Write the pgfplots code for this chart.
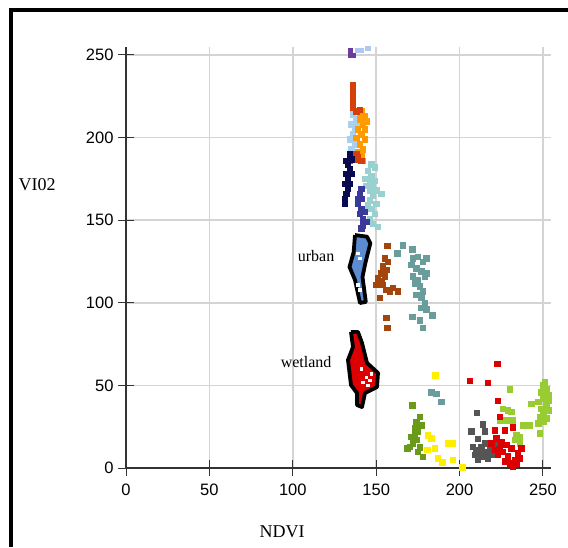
\documentclass[border=0pt]{standalone}
\usepackage{pgfplots}
\pgfplotsset{compat=1.18}
\usepackage{fontspec}
\setmainfont{Liberation Serif}
\setsansfont{Liberation Sans}
\definecolor{cpurple}{HTML}{6A3D9A}
\definecolor{clav}{HTML}{B0C8F0}
\definecolor{credor}{HTML}{D4400A}
\definecolor{corange}{HTML}{FF9A00}
\definecolor{clblue}{HTML}{A8D0F0}
\definecolor{cnavy}{HTML}{0A0A50}
\definecolor{cmblue}{HTML}{3A3A9A}
\definecolor{ccyan}{HTML}{99D0D0}
\definecolor{curban}{HTML}{5B8BD0}
\definecolor{cbrown}{HTML}{A3460E}
\definecolor{cteal}{HTML}{6B9C9C}
\definecolor{cred}{HTML}{DD0000}
\definecolor{cyellow}{HTML}{FFEE00}
\definecolor{colive}{HTML}{6A9A1A}
\definecolor{cgray}{HTML}{555555}
\definecolor{cygreen}{HTML}{99CC33}
\begin{document}
\begin{tikzpicture}
\useasboundingbox (0,0) rectangle (568pt,547pt);
\draw[line width=4pt] (11.3pt,0) -- (11.3pt,536.5pt) -- (568pt,536.5pt);
\begin{axis}[
  scale only axis, width=425.3pt, height=421.3pt,
  at={(126pt,79pt)}, anchor=south west,
  xmin=0, xmax=255, ymin=0, ymax=255,
  xtick={0,50,...,250}, ytick={0,50,...,250},
  axis x line=bottom, axis y line=left,
  axis line style={-, line width=1.2pt, color=black!80},
  grid=major, major grid style={line width=1.5pt, color=black!17},
  tick align=center, major tick length=16pt,
  tick style={line width=1pt, color=black!80},
  ticklabel style={font=\sffamily\fontsize{16.5}{16.5}\selectfont},
  xticklabel style={yshift=-4pt},
  yticklabel style={xshift=-1pt},
  /pgf/number format/assume math mode=true,
  every axis x label/.style={at={(rel axis cs:0.367,-0.152)}, anchor=center, font=\fontsize{18}{18}\selectfont},
  every axis y label/.style={at={(rel axis cs:-0.209,0.672)}, anchor=center, font=\fontsize{18}{18}\selectfont},
  xlabel={NDVI}, ylabel={VI02},
  mark size=2.75pt,
]
% polygons
\addplot[draw=black, line width=3.8pt, line join=round, fill=curban] coordinates {
(137.3,141) (144.5,140) (146.5,136) (143.5,124) (141.8,115.6) (143.8,100.5) (140.3,99.9) (137.3,113.8) (134,121.7) (136.5,130.7) (137.3,141)};
\addplot[draw=black, line width=3.8pt, line join=round, fill=cred] coordinates {
(134.9,82.3) (139.1,82.3) (141.5,75.7) (144.5,63.6) (151.1,57.5) (150.5,49) (143.3,45.4) (141.5,36.9) (138.5,38.1) (138.5,45.4) (134.9,50.2) (133.1,65.4) (136.1,73.2) (134.9,82.3)};
\addplot[only marks, mark=square*, mark size=1.2pt, white] coordinates {
(139,130) (140,127) (139,111) (140,108) (144,55) (146,53) (145,50) (147,57) (141,60) (142,52)};
% upper clusters
\addplot[only marks, mark=square*, mark size=2.2pt, cpurple] coordinates {(134.5,250) (134.5,253) (136,250)};
\addplot[only marks, mark=square*, mark size=2.2pt, clav] coordinates {(138.5,253) (141,253) (145,254)};
\addplot[only marks, mark=square*, clblue] coordinates {
(136,214) (138,211) (135,208) (137,205) (136,202) (134,199) (137,196) (135,193) (138,208) (137,199) (136,191)};
\addplot[only marks, mark=square*, corange] coordinates {
(141,216) (143,213) (140,211) (142,208) (139,205) (143,205) (141,202) (143,199) (140,196) (142,193) (139,191) (141,189) (144,210) (138,200) (142,186) (140,214)};
\addplot[only marks, mark=square*, credor] coordinates {
(136,232) (136,228) (136,224) (136,221) (136,218) (138,216) (140,217) (135,189) (137,187) (139,188) (141,186) (134,186) (138,190)};
\addplot[only marks, mark=square*, cnavy] coordinates {
(134,190) (135,187) (133,184) (134,181) (132,178) (133,175) (131,172) (133,169) (132,166) (131,163) (134,172) (135,178) (132,186) (131,160)};
\addplot[only marks, mark=square*, ccyan] coordinates {
(147,184) (149,182) (145,180) (147,177) (149,174) (144,171) (146,168) (148,165) (146,162) (150,160) (147,157) (149,154) (146,151) (148,148) (151,146) (153,166) (145,159) (148,170) (143,175) (146,174) (150,168)};
\addplot[only marks, mark=square*, cmblue] coordinates {
(141,169) (140,166) (141,163) (139,160) (141,157) (140,154) (142,151) (144,149) (142,147) (143,155) (139,163) (141,145)};
% middle clusters
\addplot[only marks, mark=square*, cbrown] coordinates {
(156.5,134.5) (155,127) (157,125) (154,122) (156,120) (153,118) (151,115) (155,116) (153,113) (150,111) (154,111) (156,108) (158,107) (160,109) (163,107) (152,103) (156,91) (156.5,85)};
\addplot[only marks, mark=square*, cteal] coordinates {
(166,135) (162.5,130) (171.5,132.5) (172,127) (175,128) (178,125) (180,127) (171,123) (174,121) (177,119) (180,118) (172,116) (175,114) (179,116) (173,112) (176,110) (178,107) (174,105) (177,103) (179,100) (177,97) (180,96) (171.5,91.5) (176,89.5) (183.5,92.5) (178,85) (183,46) (186,45) (189,40)};
% lower clusters
\addplot[only marks, mark=square*, cyellow] coordinates {
(185.3,56.3) (181,20) (185,12) (193,15) (187,6) (189.5,3.6) (196,5) (201.5,0.6) (180.5,11) (183,18) (196,15)};
\addplot[only marks, mark=square*, colive] coordinates {
(171.5,38) (176,31) (174,28) (177,26) (173,24) (175,22) (171,19) (174,17) (172,15) (168.5,12) (170,13) (176,12.7) (178,6.7) (175,10) (173,20)};
\addplot[only marks, mark=square*, cygreen] coordinates {
(230,47.8) (226,36) (229,35) (231,34) (224,29) (228,29) (232,29) (238,26) (242,26) (236,19) (236,15) (243,39) (248,21) (234,20) (233,17)
(250,50) (252,48) (249,46) (253,44) (250,42) (247,40) (252,38) (249,36) (253,35) (250,33) (248,31) (252,30) (250,28) (247,27) (253,41) (251,52)};
\addplot[only marks, mark=square*, cgray] coordinates {
(210.4,33.5) (214,26.6) (207,22.4) (215,22.4) (211,17.6) (208,13) (210,11) (212,9) (214,7) (216,10) (218,12) (220,8) (209,8) (213,13) (217,6) (211,5) (221,14) (215,15)};
\addplot[only marks, mark=square*, cred] coordinates {
(222.5,63) (206,52.7) (217,51.5) (223,40.6) (224,31) (221,23) (227,23) (232,24.8)
(219,15) (222,18) (225,16) (228,14) (231,12) (226,10) (223,8) (229,7) (233,5) (235,9) (237,12) (230,3) (232,1) (234,3) (221,11) (227,4) (224,12) (236,6)};
\node[font=\fontsize{16}{16}\selectfont] at (axis cs:114,128) {urban};
\node[font=\fontsize{16}{16}\selectfont] at (axis cs:108,64) {wetland};
\end{axis}
\end{tikzpicture}
\end{document}
